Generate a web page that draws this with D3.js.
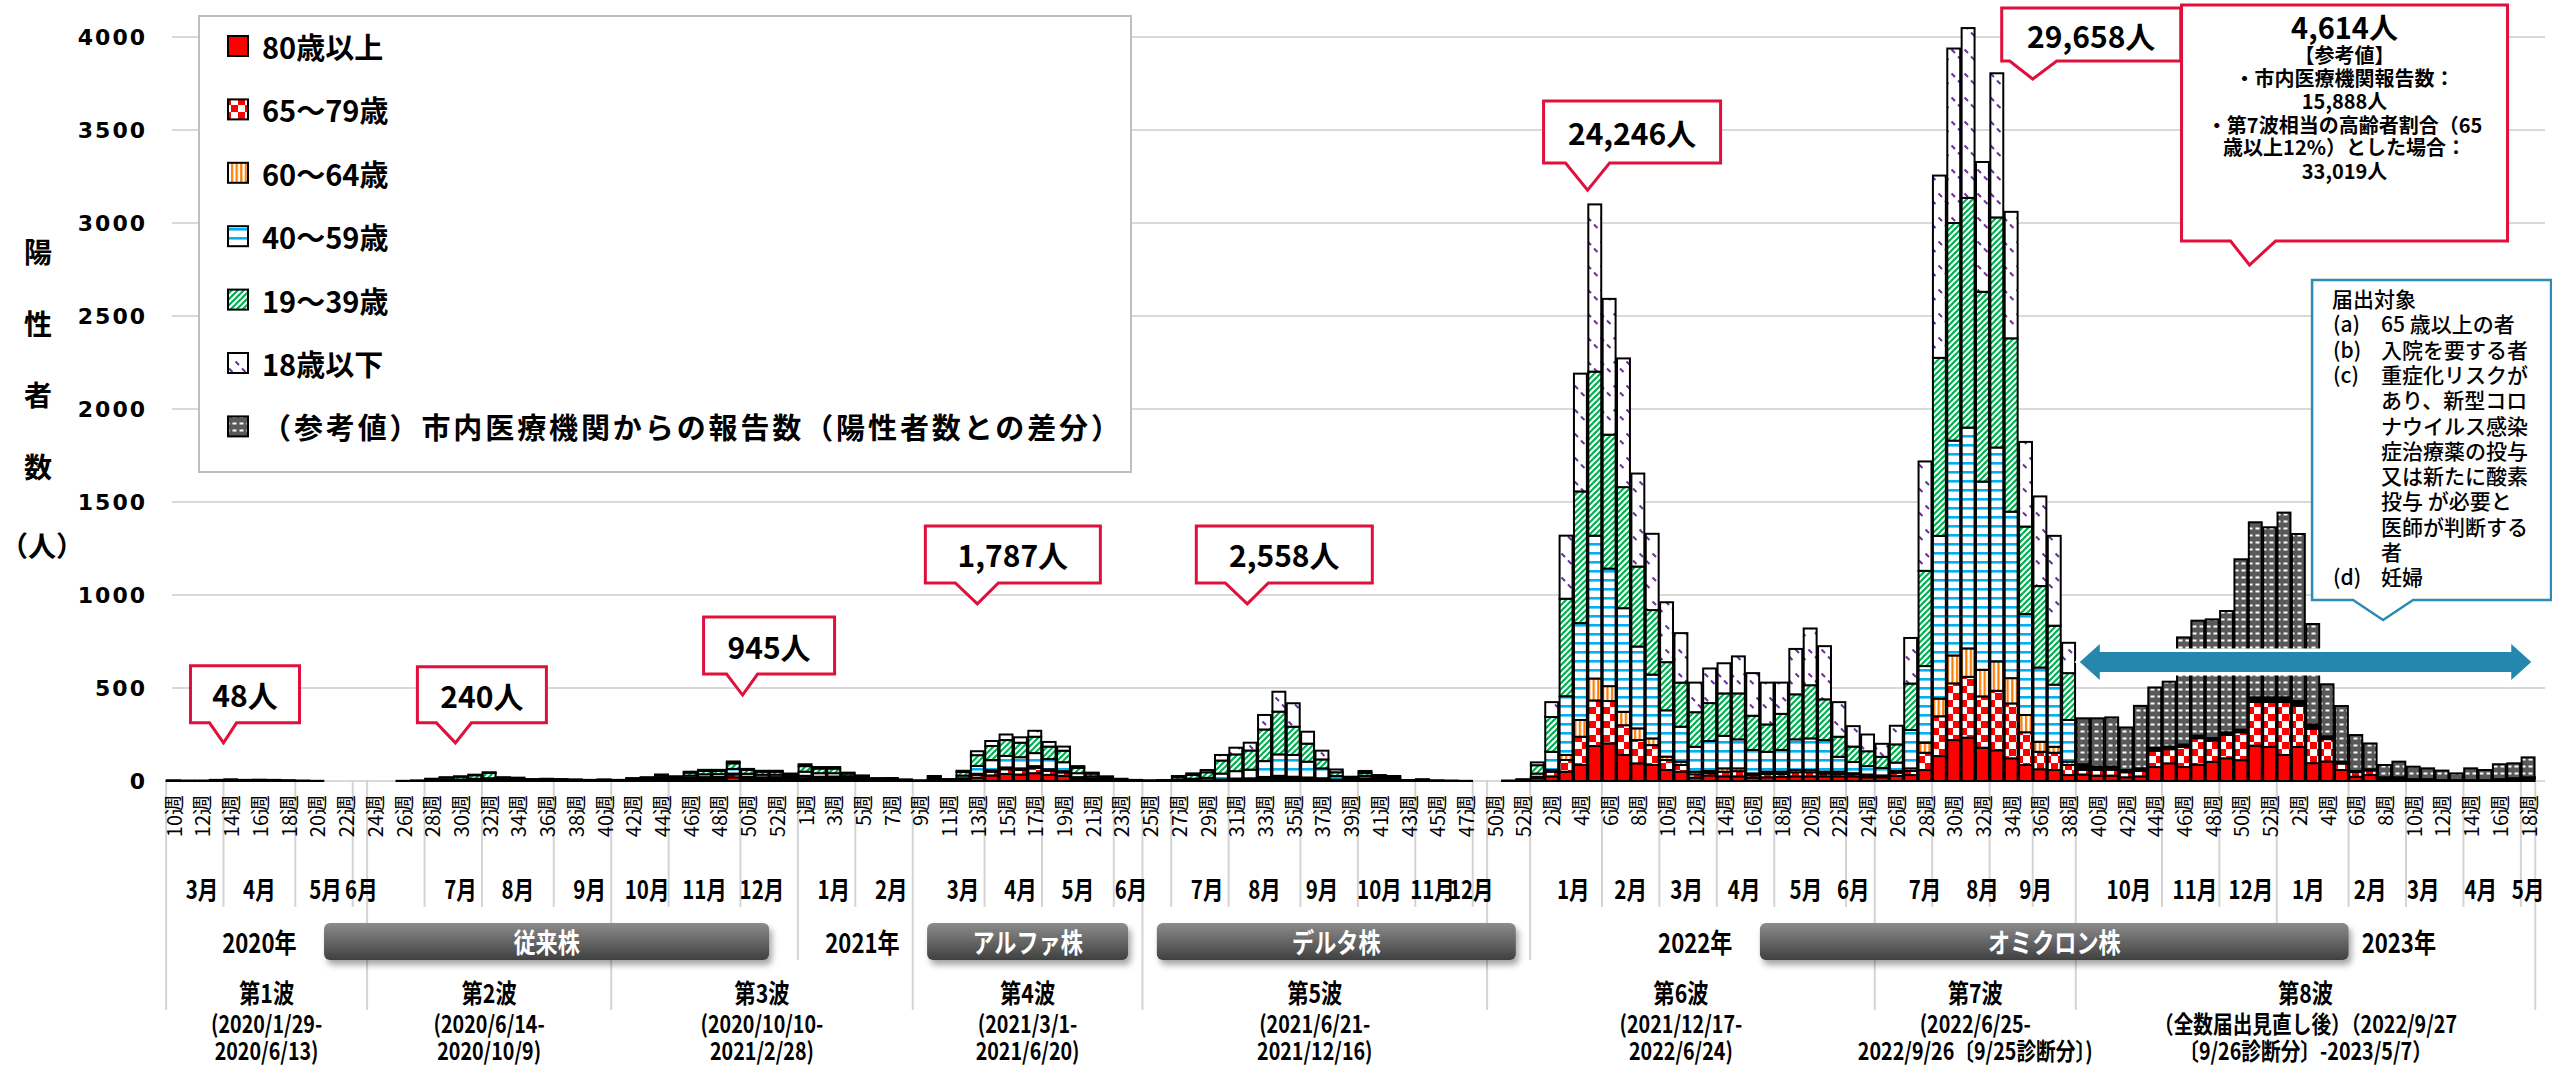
<!DOCTYPE html>
<meta charset="utf-8">
<style>
  body { margin: 0; background: #fff; }
  svg { display: block; font-family: "Noto Sans CJK JP", "Noto Sans", sans-serif; }
</style>
<body>
<svg width="2552" height="1067"></svg>
<script src="https://cdnjs.cloudflare.com/ajax/libs/d3/7.8.5/d3.min.js"></script>
<script>

// ---- week categories (2020 w10 .. 2023 w18) ----
var weekList = [];
d3.range(10, 54).forEach(function(w){ weekList.push({key: "2020-" + w, w: w}); });
d3.range(1, 48).concat([49, 50, 51, 52]).forEach(function(w){ weekList.push({key: "2021-" + w, w: w}); });
d3.range(1, 53).forEach(function(w){ weekList.push({key: "2022-" + w, w: w}); });
d3.range(1, 19).forEach(function(w){ weekList.push({key: "2023-" + w, w: w}); });

// ---- weekly positives by age (2020 | 2021 | 2022 | 2023) ----
var age80 = [
  0,0,0,1,1,1,1,1,0,0, 0,0,0,0,0,0,0,0,0,1, 1,1,2,1,1,1,1,1,1,0, 1,1,2,3,5,4,7,9,10,20, 10,9,9,7,
  12,10,10,7,5,3,3,2,1,4, 2,6,18,30,38,35,42,33,28,10, 6,3,2,1,0,0,1,1,2,3, 4,5,8,10,9,8,6,3,2,6, 4,3,1,1,0,0,0, 0,0,0,1,
  15,25,50,86,188,202,140,95,86,59, 50,18,30,25,25,18,20,22,25,25, 25,25,25,20,20,27,32,59,134,220, 233,179,165,122,86,63,59,32,35,29, 29,20,25,75,95,75,88,103,122,112, 190,183,
  140,183,96,105,59,23,32,8,8,4, 4,2,2,2,2,4,6,8];
var age65 = [
  1,0,1,1,1,1,1,1,1,0, 0,0,0,0,0,0,0,0,1,1, 1,2,2,1,1,1,1,1,1,1, 1,0,2,3,5,4,8,9,9,15, 10,8,9,6,
  12,10,10,6,4,2,3,1,0,3, 1,6,15,20,25,24,28,22,18,8, 5,3,1,1,0,0,1,1,1,3, 4,5,8,10,9,7,5,3,1,5, 3,3,1,1,0,0,0, 0,0,0,1,
  5,25,63,152,245,228,160,125,107,54, 36,18,14,25,28,13,18,16,22,22, 15,13,12,10,5,18,22,93,214,305, 327,276,320,295,176,94,93,54,25,30, 32,27,30,88,76,108,142,114,126,150, 235,242,
  285,222,185,120,35,25,25,8,8,4, 4,2,2,2,2,4,6,8];
var age60 = [
  0,0,0,0,1,0,0,0,0,0, 0,0,0,0,0,0,0,0,0,0, 1,1,1,0,0,0,0,0,0,0, 0,0,1,1,2,1,2,3,3,5, 3,3,3,2,
  4,3,4,2,1,1,1,0,0,1, 0,2,6,8,10,9,10,8,7,3, 2,1,0,0,0,0,1,1,1,2, 3,3,6,8,5,4,3,1,1,2, 1,1,0,0,0,0,0, 0,0,0,0,
  3,9,27,90,118,80,72,63,36,18, 18,14,10,18,15,10,12,12,12,12, 10,12,5,5,5,9,14,54,95,150, 153,143,158,136,93,54,32,18,5,3, 3,3,3,4,4,4,4,4,4,4, 8,8,
  8,8,5,4,2,1,1,1,1,0, 0,0,0,0,0,0,1,1];
var age40 = [
  1,1,1,2,3,2,2,2,1,1, 0,0,0,0,0,0,0,1,3,4, 5,8,10,5,5,3,3,3,2,2, 2,2,4,5,9,6,12,15,15,25, 16,14,13,10,
  22,19,18,11,8,4,4,2,1,7, 3,15,42,55,62,60,70,55,48,21, 12,7,3,2,1,1,6,9,13,32, 42,48,85,115,117,85,54,20,7,15, 9,8,1,3,1,1,0, 0,0,1,2,
  17,98,316,521,768,632,557,440,343,249, 188,134,161,175,156,126,107,117,165,170, 170,80,60,45,40,45,206,412,875,1155, 1187,1012,1150,895,543,399,334,224,10,8, 6,5,5,6,5,5,5,5,5,5, 8,8,
  8,8,10,5,4,2,2,1,1,1, 1,1,1,1,1,1,1,1];
var age19 = [
  1,1,0,2,3,2,3,2,2,1, 1,0,0,0,0,0,1,2,7,12, 15,19,28,11,9,4,5,4,3,2, 3,2,5,6,11,8,16,18,17,30, 20,16,16,11,
  30,25,25,14,9,4,4,2,1,9, 3,20,58,75,85,78,88,67,62,29, 15,8,4,1,1,3,13,21,30,70, 90,103,170,230,152,97,48,20,7,16, 9,7,1,3,1,1,1, 0,0,1,4,
  45,187,524,708,882,720,651,430,347,259, 237,186,204,228,247,184,147,194,242,286, 219,108,83,80,60,98,250,512,957,1170, 1235,1020,1237,932,470,438,317,252,8,4, 4,2,3,3,3,2,3,3,3,3, 5,5,
  5,5,5,3,2,2,2,1,1,1, 1,0,0,0,0,1,1,1];
var age18 = [
  0,0,0,0,0,0,0,0,0,0, 0,0,0,0,0,0,0,0,1,2, 2,3,4,2,2,1,2,1,1,1, 1,1,1,2,3,2,5,6,6,10, 6,5,5,4,
  10,8,8,5,3,1,1,1,0,3, 1,6,21,27,30,29,32,25,22,9, 5,3,2,1,1,1,5,8,12,30, 36,42,78,107,126,64,47,15,5,10, 6,5,1,1,1,0,0, 0,0,0,1,
  15,80,339,633,899,730,692,500,410,322, 266,159,186,162,199,229,225,168,244,305, 286,186,110,90,70,100,245,588,980,938, 913,698,775,680,455,482,483,163,7,3, 3,2,2,3,2,2,2,2,2,2, 4,4,
  4,4,3,3,2,1,1,1,1,0, 0,0,0,0,0,0,0,1];
// (参考値) reports from city clinics, difference from positives
var refDiff = [
  0,0,0,0,0,0,0,0,0,0, 0,0,0,0,0,0,0,0,0,0, 0,0,0,0,0,0,0,0,0,0, 0,0,0,0,0,0,0,0,0,0, 0,0,0,0,
  0,0,0,0,0,0,0,0,0,0, 0,0,0,0,0,0,0,0,0,0, 0,0,0,0,0,0,0,0,0,0, 0,0,0,0,0,0,0,0,0,0, 0,0,0,0,0,0,0, 0,0,0,0,
  0,0,0,0,0,0,0,0,0,0, 0,0,0,0,0,0,0,0,0,0, 0,0,0,0,0,0,0,0,0,0, 0,0,0,0,0,0,0,0,247,260, 265,229,336,324,349,576,618,638,652,916, 941,914,
  993,898,540,280,299,193,139,66,84,67, 58,51,36,63,54,80,80,107];

var seriesKeys = ["a80", "a65", "a60", "a40", "a19", "a18", "ref"];
var legendLabels = ["80歳以上", "65～79歳", "60～64歳", "40～59歳", "19～39歳", "18歳以下",
                    "（参考値）市内医療機関からの報告数（陽性者数との差分）"];
var yTicks = [0, 500, 1000, 1500, 2000, 2500, 3000, 3500, 4000];

// month labels: [label, week it sits on, shift in weeks]
var monthLabels = [
  ["3月","2020-12",0],["4月","2020-16",0],["5月","2020-20",0.6],["6月","2020-23",0.1],["7月","2020-30",0],["8月","2020-34",0],
  ["9月","2020-39",0],["10月","2020-43",0],["11月","2020-47",0],["12月","2020-51",0],
  ["1月","2021-3",0],["2月","2021-7",0],["3月","2021-12",0],["4月","2021-16",0],["5月","2021-20",0],["6月","2021-24",-0.3],
  ["7月","2021-29",0],["8月","2021-33",0],["9月","2021-37",0],["10月","2021-41",0],["11月","2021-45",-0.3],["12月","2021-47",0.4],
  ["1月","2022-4",-0.5],["2月","2022-7",0.5],["3月","2022-11",0.4],["4月","2022-15",0.4],["5月","2022-20",-0.3],["6月","2022-23",0],
  ["7月","2022-28",0],["8月","2022-32",0],["9月","2022-36",-0.3],["10月","2022-42",0.2],["11月","2022-47",-0.2],["12月","2022-51",-0.3],
  ["1月","2023-3",-0.3],["2月","2023-7",0],["3月","2023-11",-0.3],["4月","2023-15",-0.3],["5月","2023-18",0]];
// weeks after which a month divider is drawn
var monthBreaks = ["2020-13","2020-18","2020-22","2020-27","2020-31","2020-36","2020-44","2020-49",
  "2021-4","2021-13","2021-17","2021-22","2021-26","2021-30","2021-35","2021-39","2021-43","2021-47",
  "2022-5","2022-9","2022-13","2022-17","2022-22","2022-28","2022-32","2022-35","2022-44","2022-48",
  "2023-5","2023-9","2023-13","2023-17"];
var yearBreaks = ["2020-53","2021-52","2022-52"];
var yearLabels = [["2020年","2020-16"],["2021年","2021-5"],["2022年","2022-12"],["2023年","2023-9"]];
var strains = [["従来株","2020-21","2020-51"],["アルファ株","2021-10","2021-23"],
               ["デルタ株","2021-26","2021-51"],["オミクロン株","2022-17","2023-5"]];
var waves = [
  ["第1波","2020-10","2020-23","(2020/1/29-","2020/6/13)"],
  ["第2波","2020-24","2020-40","(2020/6/14-","2020/10/9)"],
  ["第3波","2020-41","2021-8","(2020/10/10-","2021/2/28)"],
  ["第4波","2021-9","2021-24","(2021/3/1-","2021/6/20)"],
  ["第5波","2021-25","2021-49","(2021/6/21-","2021/12/16)"],
  ["第6波","2021-50","2022-24","(2021/12/17-","2022/6/24)"],
  ["第7波","2022-25","2022-38","(2022/6/25-","2022/9/26〔9/25診断分〕)"],
  ["第8波","2022-39","2023-18","（全数届出見直し後）（2022/9/27","〔9/26診断分〕-2023/5/7）"]];
// callouts: text, week, value where the pointer ends
var callouts = [
  ["48人","2020-13",205],["240人","2020-29",205],["945人","2020-49",462],
  ["1,787人","2021-13",952],["2,558人","2021-32",952],["24,246人","2022-4",3177],["29,658人","2022-35",3774]];
var noteLines = ["4,614人","【参考値】","・市内医療機関報告数：","15,888人",
                 "・第7波相当の高齢者割合（65","歳以上12%）とした場合：","33,019人"];
var targetLines = [["","届出対象"],["(a)","65 歳以上の者"],["(b)","入院を要する者"],["(c)","重症化リスクが"],
  ["","あり、新型コロ"],["","ナウイルス感染"],["","症治療薬の投与"],["","又は新たに酸素"],
  ["","投与 が必要と"],["","医師が判断する"],["","者"],["(d)","妊婦"]];

// ---- setup ----
var svg = d3.select("svg"),
    width = +svg.attr("width"),
    height = +svg.attr("height");

svg.append("rect").attr("width", width).attr("height", height).attr("fill", "#fff");

var keys = weekList.map(function(d){ return d.key; });
var step = 14.35;
var x = d3.scaleBand().domain(keys).range([166.8, 166.8 + step * keys.length]).paddingInner(0.1);
var y = d3.scaleLinear().domain([0, 4000]).range([781, 37]);

function xc(key){ return x(key) + x.bandwidth() / 2; }
function xAfter(key){ return xc(key) + step / 2; }
function xBefore(key){ return xc(key) - step / 2; }

var rows = weekList.map(function(d, i){
  return {key: d.key, a80: age80[i], a65: age65[i], a60: age60[i], a40: age40[i], a19: age19[i], a18: age18[i], ref: refDiff[i]};
});
var stacked = d3.stack().keys(seriesKeys)(rows);

// ---- patterns ----
var defs = svg.append("defs");
function pat(id, w, h, bg){
  var p = defs.append("pattern").attr("id", id).attr("patternUnits", "userSpaceOnUse")
    .attr("width", w).attr("height", h);
  p.append("rect").attr("width", w).attr("height", h).attr("fill", bg);
  return p;
}
pat("pRed", 10, 10, "#ff0000");
var pc = pat("pChk", 14, 14, "#fff");
pc.append("rect").attr("width", 7).attr("height", 7).attr("fill", "#ff0000");
pc.append("rect").attr("x", 7).attr("y", 7).attr("width", 7).attr("height", 7).attr("fill", "#ff0000");
pat("pOrg", 4.6, 10, "#fff").append("rect").attr("x", 1).attr("width", 2.2).attr("height", 10).attr("fill", "#ff7b00");
pat("pBlue", 10, 9, "#fff").append("rect").attr("y", 3).attr("width", 10).attr("height", 2.6).attr("fill", "#00b0f0");
var pg = pat("pGreen", 6, 6, "#fff");
["M-1,7 L7,-1", "M-4,4 L4,-4", "M2,10 L10,2"].forEach(function(dd){
  pg.append("path").attr("d", dd).attr("stroke", "#00b050").attr("stroke-width", 2.2);
});
var pu = pat("pU18", 13, 24, "#fff");
["M1.5,1.5 L5,5", "M8,8.5 L11.5,12"].forEach(function(dd){
  pu.append("path").attr("d", dd).attr("stroke", "#6a2c9c").attr("stroke-width", 2);
});
pat("pRef", 7, 7, "#595959").append("rect").attr("x", 1.5).attr("y", 2.5).attr("width", 4).attr("height", 2).attr("fill", "#fff");

var fills = {a80: "url(#pRed)", a65: "url(#pChk)", a60: "url(#pOrg)", a40: "url(#pBlue)",
             a19: "url(#pGreen)", a18: "url(#pU18)", ref: "url(#pRef)"};

var grad = defs.append("linearGradient").attr("id", "gStrain").attr("x1", 0).attr("y1", 0).attr("x2", 0).attr("y2", 1);
grad.append("stop").attr("offset", "0%").attr("stop-color", "#8c8c8c");
grad.append("stop").attr("offset", "100%").attr("stop-color", "#404040");
var shadow = defs.append("filter").attr("id", "fShadow").attr("x", "-10%").attr("y", "-30%").attr("width", "130%").attr("height", "180%");
shadow.append("feDropShadow").attr("dx", 3).attr("dy", 5).attr("stdDeviation", 3).attr("flood-opacity", 0.35);

// ---- gridlines and y axis ----
var grid = svg.append("g");
grid.selectAll("line").data(yTicks).enter().append("line")
  .attr("x1", 172).attr("x2", 2545)
  .attr("y1", function(d){ return y(d); }).attr("y2", function(d){ return y(d); })
  .attr("stroke", "#d9d9d9").attr("stroke-width", 2);

svg.append("g").selectAll("text").data(yTicks).enter().append("text")
  .attr("x", 147).attr("y", function(d){ return y(d); })
  .attr("text-anchor", "end").attr("dominant-baseline", "central")
  .attr("font-family", "'DejaVu Sans', sans-serif")
  .attr("font-size", 22).attr("font-weight", 700).attr("letter-spacing", 2)
  .text(function(d){ return d; });

var yTitle = svg.append("g").attr("font-size", 28).attr("font-weight", 700).attr("text-anchor", "middle");
["陽","性","者","数"].forEach(function(c, k){
  yTitle.append("text").attr("x", 38).attr("y", 251 + k * 71.5).attr("dominant-baseline", "central").text(c);
});
yTitle.append("text").attr("x", 42).attr("y", 545).attr("dominant-baseline", "central").text("（人）");

// ---- dividers below the axis ----
var div = svg.append("g").attr("stroke", "#d4d4d4").attr("stroke-width", 2);
monthBreaks.forEach(function(k){
  div.append("line").attr("x1", xAfter(k)).attr("x2", xAfter(k)).attr("y1", 781).attr("y2", 907);
});
yearBreaks.forEach(function(k){
  div.append("line").attr("x1", xAfter(k)).attr("x2", xAfter(k)).attr("y1", 781).attr("y2", 960);
});
div.append("line").attr("x1", xBefore(waves[0][1])).attr("x2", xBefore(waves[0][1])).attr("y1", 781).attr("y2", 1010);
waves.forEach(function(w){
  div.append("line").attr("x1", xAfter(w[2])).attr("x2", xAfter(w[2])).attr("y1", 781).attr("y2", 1010);
});

// ---- bars ----
var barG = svg.append("g");
stacked.forEach(function(s){
  barG.append("g").selectAll("rect")
    .data(s.filter(function(d){ return d[1] - d[0] > 0; }))
    .enter().append("rect")
    .attr("x", function(d){ return x(d.data.key); })
    .attr("width", x.bandwidth())
    .attr("y", function(d){ return y(d[1]); })
    .attr("height", function(d){ return y(d[0]) - y(d[1]); })
    .attr("fill", fills[s.key])
    .attr("stroke", "#000").attr("stroke-width", 2);
});

// ---- x axis texts ----
var wk = svg.append("g").attr("font-size", 20);
weekList.forEach(function(d, i){
  if (i % 2 !== 0) return;
  wk.append("text")
    .attr("transform", "translate(" + xc(d.key) + ",795) rotate(-90)")
    .attr("text-anchor", "end").attr("dominant-baseline", "central")
    .text(d.w + "週");
});

function condText(g, cx, cy, str, size, color){
  return g.append("text")
    .attr("transform", "translate(" + cx + "," + cy + ") scale(0.82,1)")
    .attr("text-anchor", "middle").attr("dominant-baseline", "central")
    .attr("font-size", size).attr("font-weight", 700)
    .attr("fill", color || "#000").text(str);
}
var lower = svg.append("g");
monthLabels.forEach(function(m){ condText(lower, xc(m[1]) + m[2] * step, 888, m[0], 25); });
yearLabels.forEach(function(m){ condText(lower, xc(m[1]), 941, m[0], 27); });
strains.forEach(function(s){
  var x1 = xBefore(s[1]), x2 = xAfter(s[2]);
  lower.append("rect").attr("x", x1).attr("y", 923).attr("width", x2 - x1).attr("height", 37)
    .attr("rx", 6).attr("fill", "url(#gStrain)").attr("filter", "url(#fShadow)");
  condText(lower, (x1 + x2) / 2, 941, s[0], 27, "#fff");
});
waves.forEach(function(w){
  var cx = (xBefore(w[1]) + xAfter(w[2])) / 2;
  condText(lower, cx, 992, w[0], 26);
  condText(lower, cx, 1023, w[3], 24);
  condText(lower, cx, 1050, w[4], 24);
});

// ---- legend ----
var leg = svg.append("g");
leg.append("rect").attr("x", 199).attr("y", 16).attr("width", 932).attr("height", 456)
  .attr("fill", "#fff").attr("stroke", "#bfbfbf").attr("stroke-width", 2);
legendLabels.forEach(function(t, k){
  var cy = 46 + k * 63.4;
  leg.append("rect").attr("x", 228).attr("y", cy - 10).attr("width", 20).attr("height", 20)
    .attr("fill", fills[seriesKeys[k]]).attr("stroke", "#000").attr("stroke-width", 2);
  var tt = leg.append("text").attr("x", 262).attr("y", cy).attr("dominant-baseline", "central")
    .attr("font-size", 29).attr("font-weight", 700).text(t);
  if (k === legendLabels.length - 1) tt.attr("textLength", 858).attr("lengthAdjust", "spacing");
});

// ---- callouts ----
var red = "#e0103c";
function calloutPath(tx, ty, l, r, t, b, bl, br){
  return "M" + (tx + l) + "," + (ty + t) + "H" + (tx + r) + "V" + (ty + b) +
    "H" + (tx + br) + "L" + tx + "," + ty + "L" + (tx + bl) + "," + (ty + b) + "H" + (tx + l) + "Z";
}
// box geometry relative to pointer tip: [dx in steps, left, right, top, bottom, baseL, baseR]
var calloutBoxes = [
  [0.5, -33, 76, -77, -20, -14, 13], [0.65, -38, 91, -76, -20, -19, 16], [0.65, -39, 92, -78, -21, -16, 15],
  [0, -52, 123, -78, -21, -22, 21], [-0.2, -51, 125, -78, -21, -22, 21], [0.5, -44, 133, -89, -27, -22, 22],
  [0.5, -31, 148, -71, -18, -23, 24]];
var co = svg.append("g");
callouts.forEach(function(c, k){
  var b = calloutBoxes[k];
  var tx = xc(c[1]) + b[0] * step, ty = y(c[2]);
  co.append("path").attr("d", calloutPath(tx, ty, b[1], b[2], b[3], b[4], b[5], b[6]))
    .attr("fill", "#fff").attr("stroke", red).attr("stroke-width", 3);
  co.append("text").attr("x", tx + (b[1] + b[2]) / 2).attr("y", ty + (b[3] + b[4]) / 2)
    .attr("text-anchor", "middle").attr("dominant-baseline", "central")
    .attr("font-size", 30).attr("font-weight", 700).text(c[0]);
});

// big note box (8th wave totals)
var ntx = xc("2022-51") - 0.4 * step, nty = y(2774);
co.append("path").attr("d", calloutPath(ntx, nty, -68, 258, -260, -24, -19, 26))
  .attr("fill", "#fff").attr("stroke", red).attr("stroke-width", 3);
var ncx = ntx + 95;
noteLines.forEach(function(t, k){
  co.append("text").attr("x", ncx).attr("y", [26, 54, 77, 100, 124, 146, 170][k])
    .attr("text-anchor", "middle").attr("dominant-baseline", "central")
    .attr("font-size", k === 0 ? 29 : 20).attr("font-weight", 700).text(t);
});

// notification target box
var blue = "#2e8bb3";
var btx = xc("2023-8") - 0.1 * step, bty = y(866);
co.append("path").attr("d", calloutPath(btx, bty, -71, 168, -340, -20, -30, 30))
  .attr("fill", "#fff").attr("stroke", blue).attr("stroke-width", 2.5);
targetLines.forEach(function(t, k){
  var ly = 298 + k * 25.3;
  if (k === 0) {
    co.append("text").attr("x", btx - 51).attr("y", ly).attr("dominant-baseline", "central")
      .attr("font-size", 21).attr("font-weight", 500).text(t[1]);
    return;
  }
  if (t[0]) co.append("text").attr("x", btx - 50).attr("y", ly).attr("dominant-baseline", "central")
      .attr("font-size", 21).attr("font-weight", 500).text(t[0]);
  co.append("text").attr("x", btx - 2).attr("y", ly).attr("dominant-baseline", "central")
    .attr("font-size", 21).attr("font-weight", 500).text(t[1]);
});

// double arrow over the 8th wave
var ax1 = xBefore("2022-39") + 4, ax2 = xAfter("2023-18") - 4, ay = y(640);
var arrow = "M" + ax1 + "," + ay + "L" + (ax1 + 20) + "," + (ay - 18) + "V" + (ay - 10) + "H" + (ax2 - 20) +
  "V" + (ay - 18) + "L" + ax2 + "," + ay + "L" + (ax2 - 20) + "," + (ay + 18) + "V" + (ay + 10) +
  "H" + (ax1 + 20) + "V" + (ay + 18) + "Z";
svg.append("path").attr("d", arrow).attr("fill", "#2587ad")
  .attr("stroke", "#fff").attr("stroke-width", 7).attr("paint-order", "stroke").attr("stroke-linejoin", "miter");

</script>
</body>
